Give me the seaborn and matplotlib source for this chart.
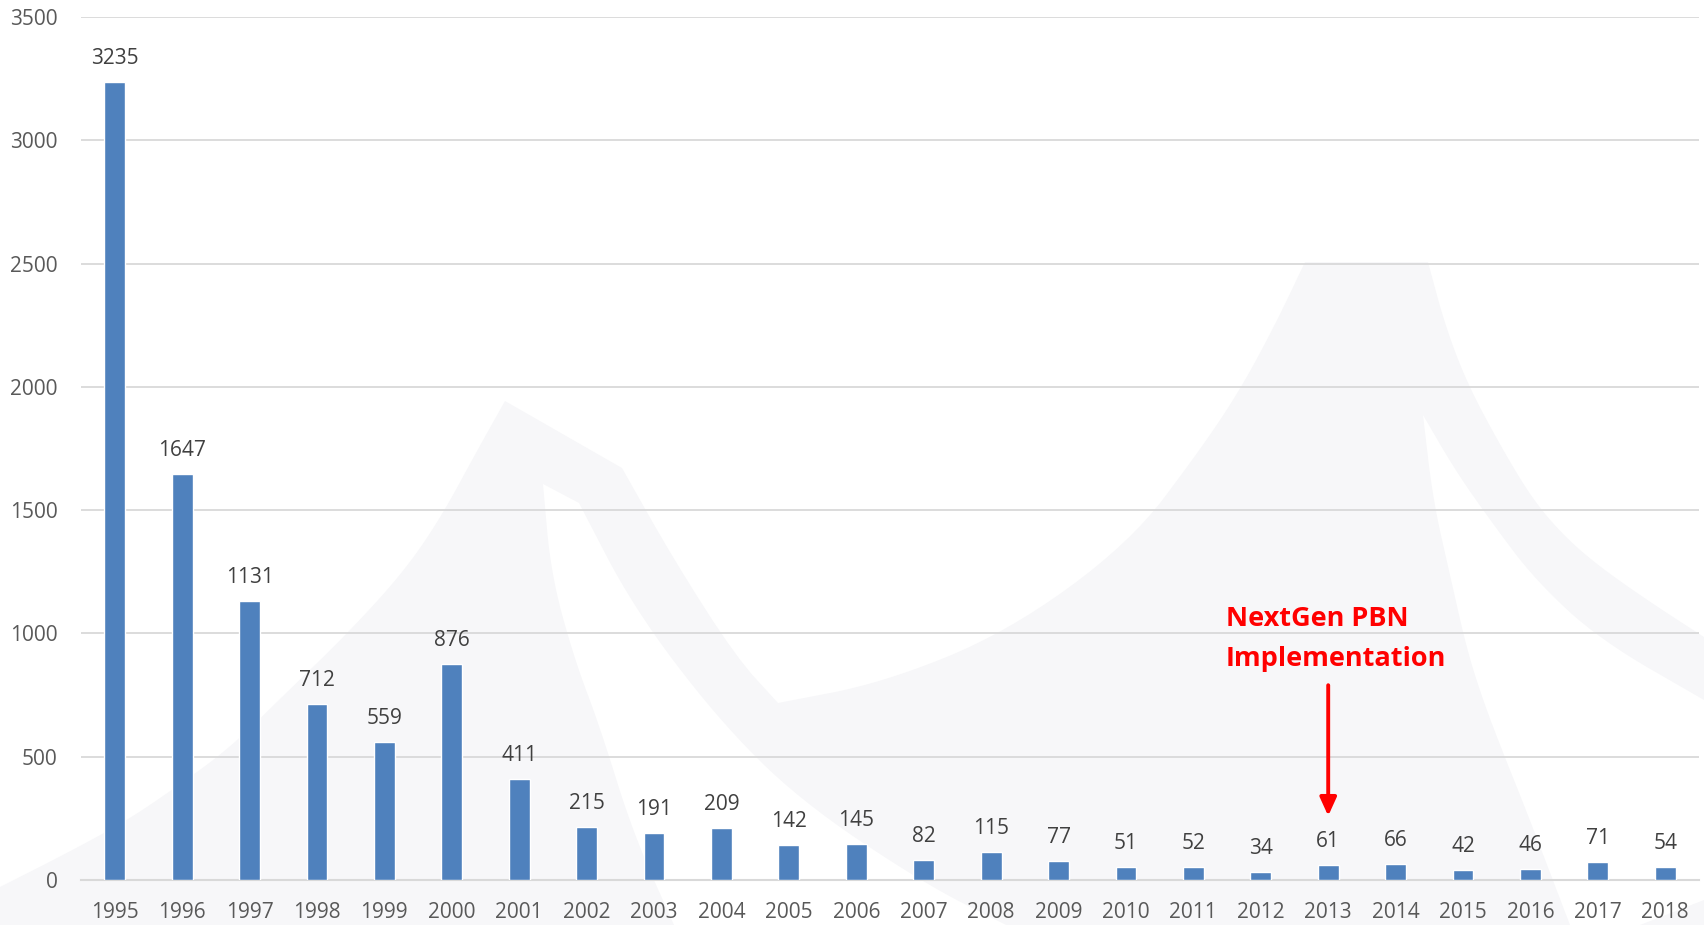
"""
Yearly counts 1995-2018 with the NextGen PBN implementation marker
"""

import matplotlib
matplotlib.use("Agg")
import matplotlib.pyplot as plt
from matplotlib.patches import Polygon
import seaborn as sns
import pandas as pd

# ----------------------------------------------------------------------------
# Data
# ----------------------------------------------------------------------------
years = ["1995", "1996", "1997", "1998", "1999", "2000", "2001", "2002",
         "2003", "2004", "2005", "2006", "2007", "2008", "2009", "2010",
         "2011", "2012", "2013", "2014", "2015", "2016", "2017", "2018"]
counts = [3235, 1647, 1131, 712, 559, 876, 411, 215,
          191, 209, 142, 145, 82, 115, 77, 51,
          52, 34, 61, 66, 42, 46, 71, 54]
y_ticks = [0, 500, 1000, 1500, 2000, 2500, 3000, 3500]

note_lines = ["NextGen PBN", "Implementation"]
note_year = "2013"

df = pd.DataFrame({"year": years, "count": counts})

# ----------------------------------------------------------------------------
# Style
# ----------------------------------------------------------------------------
sns.set_theme(style="white")
plt.rcParams['font.family'] = ['Open Sans', 'DejaVu Sans']

BAR = '#4F81BD'
GRID = '#D9D9D9'
TICK_TXT = '#595959'
LABEL_TXT = '#404040'
WATERMARK = '#F7F7F9'

W, H = 1704, 925
fig = plt.figure(figsize=(W / 100, H / 100), dpi=100)
fig.patch.set_facecolor('white')


# faint background watermark, outlined in pixels
def smooth(pts, n=3):
    # Chaikin corner cutting, endpoints kept
    for _ in range(n):
        out = [pts[0]]
        for (x0, y0), (x1, y1) in zip(pts[:-1], pts[1:]):
            out.append((0.75 * x0 + 0.25 * x1, 0.75 * y0 + 0.25 * y1))
            out.append((0.25 * x0 + 0.75 * x1, 0.25 * y0 + 0.75 * y1))
        out.append(pts[-1])
        pts = out
    return pts


def px(points):
    return [(x / W, 1 - y / H) for x, y in points]


envelope = (
    [(0, 925)]
    + smooth([(0, 887), (69, 852), (126, 821), (172, 790), (230, 748),
              (287, 692), (344, 637), (402, 574), (440, 519), (478, 449),
              (505, 401)])
    + smooth([(622, 468), (674, 560), (736, 657), (778, 703)], 2)
    + smooth([(778, 703), (882, 683), (1006, 633), (1130, 543), (1200, 450),
              (1240, 390), (1275, 325), (1305, 262)])
    + smooth([(1428, 262), (1445, 325), (1467, 383), (1500, 445),
              (1533, 500), (1565, 537), (1600, 567), (1650, 602),
              (1704, 637)])
    + [(1704, 925)]
)
notch_left = (
    smooth([(579, 503), (633, 607), (716, 717), (799, 800), (923, 883),
            (1006, 925)])
    + smooth([(674, 925), (633, 833), (600, 727), (574, 658), (551, 574),
              (543, 484)])
)
notch_right = (
    smooth([(1423, 415), (1455, 470), (1490, 520), (1535, 580), (1600, 640),
            (1704, 700)])
    + [(1704, 900), (1640, 925)]
    + smooth([(1570, 925), (1530, 820), (1500, 745), (1483, 700),
              (1467, 650), (1450, 575), (1433, 500), (1423, 415)])
)

fig.add_artist(Polygon(px(envelope), closed=True, transform=fig.transFigure,
                       facecolor=WATERMARK, edgecolor='none', zorder=-3))
for shape in (notch_left, notch_right):
    fig.add_artist(Polygon(px(shape), closed=True, transform=fig.transFigure,
                           facecolor='white', edgecolor='none', zorder=-2))

# ----------------------------------------------------------------------------
# Bars
# ----------------------------------------------------------------------------
ax = fig.add_axes([81 / W, 1 - 880 / H, 1618 / W, 863 / H])
ax.set_facecolor('none')

sns.barplot(data=df, x="year", y="count", color=BAR, saturation=1,
            width=0.31, ax=ax, zorder=3)

for i, v in enumerate(counts):
    ax.annotate(f"{v}", xy=(i, v), xytext=(0, 13), textcoords='offset points',
                ha='center', va='baseline', fontsize=15, color=LABEL_TXT)

ax.set_ylim(0, 3500)
ax.set_yticks(y_ticks)
ax.set_xlim(-0.5, len(years) - 0.5)
ax.yaxis.grid(True, color=GRID, linewidth=1.3, zorder=0)
ax.set_axisbelow(True)
ax.set_xlabel('')
ax.set_ylabel('')

for side in ['top', 'right', 'left']:
    ax.spines[side].set_visible(False)
ax.spines['bottom'].set_color(GRID)
ax.spines['bottom'].set_linewidth(1.5)

ax.tick_params(axis='y', length=0, pad=17, labelsize=15, labelcolor=TICK_TXT)
ax.tick_params(axis='x', length=0, pad=16, labelsize=15, labelcolor=TICK_TXT)

# ----------------------------------------------------------------------------
# Annotation
# ----------------------------------------------------------------------------
xi = years.index(note_year)
ax.annotate('', xy=(xi, 260), xytext=(xi, 790),
            arrowprops=dict(arrowstyle='-|>,head_length=1.1,head_width=0.5',
                            mutation_scale=10, color='#FF0000', lw=2.8,
                            shrinkA=0, shrinkB=0))
ax.text(xi - 1.52, 1030, note_lines[0], ha='left', va='baseline',
        fontsize=19.5, fontweight='bold', color='#FF0000')
ax.text(xi - 1.52, 867, note_lines[1], ha='left', va='baseline',
        fontsize=19.5, fontweight='bold', color='#FF0000')

plt.savefig('out.png', dpi=100)
plt.close()
